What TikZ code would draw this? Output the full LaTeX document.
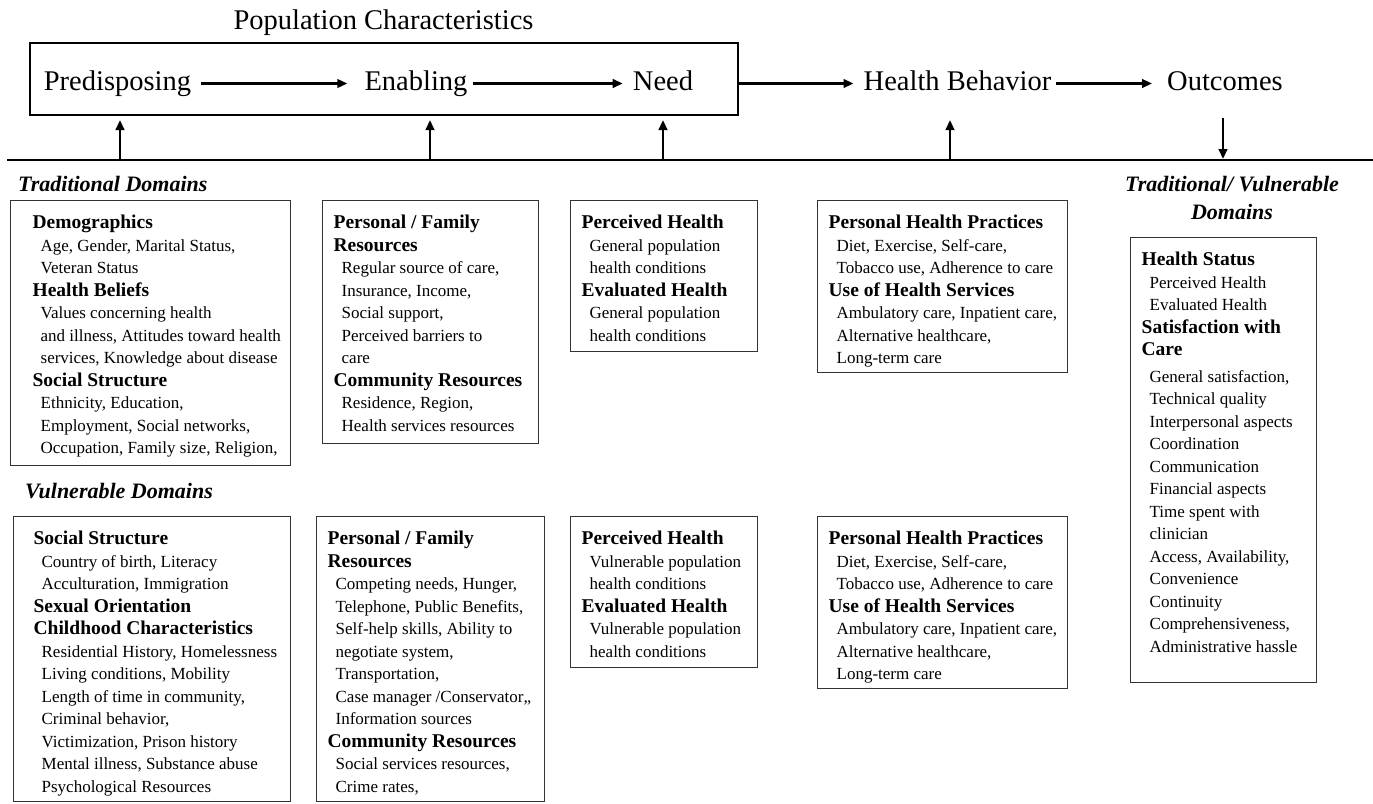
\documentclass[tikz,border=0pt]{standalone}
\usepackage{fontspec}
\setmainfont{Liberation Serif}
\usetikzlibrary{positioning, arrows.meta}

% one printed line of a domain box
\newcommand{\dhead}[1]{{\fontsize{19.5}{22.5}\selectfont\bfseries\mbox{#1}\par}}
\newcommand{\ditem}[1]{{\leavevmode\hspace*{8pt}\mbox{#1}\par}}
\newcommand{\dlines}[3]{\begin{minipage}[t][#1][t]{#2}\fontsize{17}{22.5}\selectfont\raggedright\vspace*{14.5pt}#3\end{minipage}}

\begin{document}
\begin{tikzpicture}[x=1pt, y=-1pt,
    stage/.style={font=\fontsize{28.5}{30}\selectfont, text height=19pt, text depth=6pt, inner xsep=5pt, inner ysep=0pt},
    flow/.style={-{Triangle[length=10pt, width=8.5pt]}, line width=2.4pt},
    popframe/.style={draw, line width=2.8pt, minimum width=708pt, minimum height=72pt, inner sep=0pt},
    domainbox/.style={draw=black!80, line width=1.3pt, anchor=north west, inner xsep=11pt, inner ysep=0pt},
    grouplabel/.style={font=\fontsize{22}{28}\selectfont\bfseries\itshape, inner sep=0pt}
]
    \useasboundingbox (0,0) rectangle (1373,803);

    % population characteristics and the flow line
    \node[stage, anchor=base] (popchar) at (383.5,29) {Population Characteristics};
    \node[popframe] (popbox) at (384,79) {};
    \node[stage, anchor=base] (pred) at (117.5,90) {Predisposing};
    \node[stage, anchor=base] (enab) at (416,90) {Enabling};
    \node[stage, anchor=base] (need) at (663,90) {Need};
    \node[stage, anchor=base] (behav) at (957.5,90) {Health Behavior};
    \node[stage, anchor=base] (outc) at (1225,90) {Outcomes};

    \draw[flow, shorten <=5pt, shorten >=12pt] (pred) -- (enab);
    \draw[flow, shorten >=5pt] (enab) -- (need);
    \draw[flow, shorten >=5pt] (popbox.east |- behav) -- (behav);
    \draw[flow, shorten >=10pt] (behav) -- (outc);

    % dividing rule with the arrows up and down
    \coordinate (rule west) at (7,160);
    \coordinate (rule east) at (1373,160);
    \draw[line width=2.8pt] (rule west) -- (rule east);
    \foreach \px [count=\k] in {120,430,663,950} {
        \coordinate (foot\k) at (\px,160);
        \coordinate (tip\k) at (\px,120);
        \draw[flow] (foot\k) -- (tip\k);
    }
    \coordinate (outfoot) at (1223,118);
    \coordinate (outtip) at (1223,159);
    \draw[flow] (outfoot) -- (outtip);

    % traditional domains
    \node[grouplabel, anchor=base west] (tradlabel) at (18,191) {Traditional Domains};
    \node[domainbox, inner xsep=22pt] (tradpre) at (10,200) {\dlines{265pt}{236pt}{
        \dhead{Demographics}
        \ditem{Age, Gender, Marital Status,}
        \ditem{Veteran Status}
        \dhead{Health Beliefs}
        \ditem{Values concerning health}
        \ditem{and illness, Attitudes toward health}
        \ditem{services, Knowledge about disease}
        \dhead{Social Structure}
        \ditem{Ethnicity, Education,}
        \ditem{Employment, Social networks,}
        \ditem{Occupation, Family size, Religion,}}};
    \node[domainbox] (tradena) at (322,200) {\dlines{243pt}{194pt}{
        \dhead{Personal / Family}
        \dhead{Resources}
        \ditem{Regular source of care,}
        \ditem{Insurance, Income,}
        \ditem{Social support,}
        \ditem{Perceived barriers to}
        \ditem{care}
        \dhead{Community Resources}
        \ditem{Residence, Region,}
        \ditem{Health services resources}}};
    \node[domainbox] (tradneed) at (570,200) {\dlines{151pt}{165pt}{
        \dhead{Perceived Health}
        \ditem{General population}
        \ditem{health conditions}
        \dhead{Evaluated Health}
        \ditem{General population}
        \ditem{health conditions}}};
    \node[domainbox] (tradbehav) at (817,200) {\dlines{172pt}{228pt}{
        \dhead{Personal Health Practices}
        \ditem{Diet, Exercise, Self-care,}
        \ditem{Tobacco use, Adherence to care}
        \dhead{Use of Health Services}
        \ditem{Ambulatory care, Inpatient care,}
        \ditem{Alternative healthcare,}
        \ditem{Long-term care}}};

    % outcomes
    \node[grouplabel, anchor=north, align=center] (outlabel) at (1232,176) {Traditional/ Vulnerable\\Domains};
    \node[domainbox] (outbox) at (1130,237) {\dlines{445pt}{164pt}{
        \dhead{Health Status}
        \ditem{Perceived Health}
        \ditem{Evaluated Health}
        \dhead{Satisfaction with}
        \dhead{Care}
        \vspace{4pt}
        \ditem{General satisfaction,}
        \ditem{Technical quality}
        \ditem{Interpersonal aspects}
        \ditem{Coordination}
        \ditem{Communication}
        \ditem{Financial aspects}
        \ditem{Time spent with}
        \ditem{clinician}
        \ditem{Access, Availability,}
        \ditem{Convenience}
        \ditem{Continuity}
        \ditem{Comprehensiveness,}
        \ditem{Administrative hassle}}};

    % vulnerable domains
    \node[grouplabel, anchor=base west] (vulnlabel) at (25,498) {Vulnerable Domains};
    \node[domainbox, inner xsep=20pt] (vulnpre) at (13,516) {\dlines{285pt}{237pt}{
        \dhead{Social Structure}
        \ditem{Country of birth, Literacy}
        \ditem{Acculturation, Immigration}
        \dhead{Sexual Orientation}
        \dhead{Childhood Characteristics}
        \ditem{Residential History, Homelessness}
        \ditem{Living conditions, Mobility}
        \ditem{Length of time in community,}
        \ditem{Criminal behavior,}
        \ditem{Victimization, Prison history}
        \ditem{Mental illness, Substance abuse}
        \ditem{Psychological Resources}}};
    \node[domainbox] (vulnena) at (316,516) {\dlines{285pt}{206pt}{
        \dhead{Personal / Family}
        \dhead{Resources}
        \ditem{Competing needs, Hunger,}
        \ditem{Telephone, Public Benefits,}
        \ditem{Self-help skills, Ability to}
        \ditem{negotiate system,}
        \ditem{Transportation,}
        \ditem{Case manager /Conservator,,}
        \ditem{Information sources}
        \dhead{Community Resources}
        \ditem{Social services resources,}
        \ditem{Crime rates,}}};
    \node[domainbox] (vulnneed) at (570,516) {\dlines{151pt}{165pt}{
        \dhead{Perceived Health}
        \ditem{Vulnerable population}
        \ditem{health conditions}
        \dhead{Evaluated Health}
        \ditem{Vulnerable population}
        \ditem{health conditions}}};
    \node[domainbox] (vulnbehav) at (817,516) {\dlines{172pt}{228pt}{
        \dhead{Personal Health Practices}
        \ditem{Diet, Exercise, Self-care,}
        \ditem{Tobacco use, Adherence to care}
        \dhead{Use of Health Services}
        \ditem{Ambulatory care, Inpatient care,}
        \ditem{Alternative healthcare,}
        \ditem{Long-term care}}};
\end{tikzpicture}
\end{document}
